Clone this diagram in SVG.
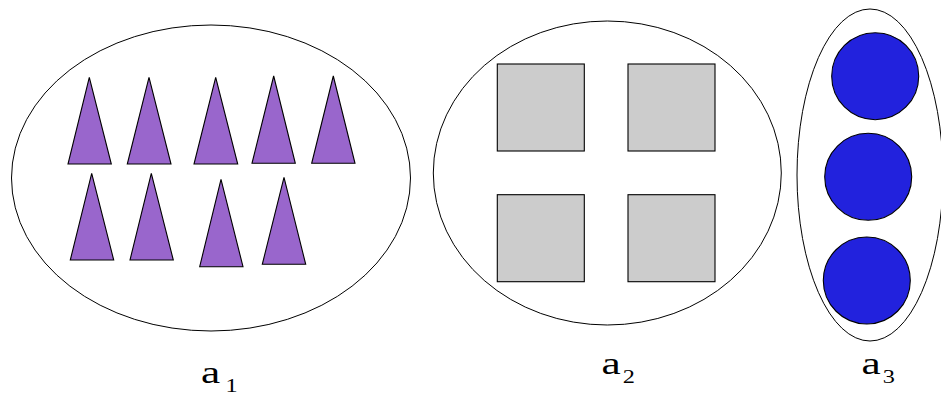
<svg xmlns="http://www.w3.org/2000/svg" width="941" height="403" viewBox="0 0 941 403">
<style>
.set{fill:none;stroke:#000;stroke-width:1}
.tri{fill:#9966CC;stroke:#000;stroke-width:1.1}
.sq{fill:#CCCCCC;stroke:#000;stroke-width:1.1}
.ci{fill:#2222DD;stroke:#000;stroke-width:1.1}
.lab{font-family:"Liberation Serif","DejaVu Serif",serif;font-size:32px;fill:#000}
.sub{font-size:18px}
</style>
<rect width="941" height="403" fill="#fff"/>
<g id="a1">
<ellipse class="set" cx="211" cy="178" rx="199.5" ry="153"/>
<polygon class="tri" points="89.3,77.3 68,164 111.3,164"/>
<polygon class="tri" points="149,77.3 127.3,164 171,164"/>
<polygon class="tri" points="215.7,77.3 194,164 237.7,164"/>
<polygon class="tri" points="273.7,76 252,163.3 295.3,163.3"/>
<polygon class="tri" points="333.3,76 311.7,163.3 355,163.3"/>
<polygon class="tri" points="91.7,173.3 70.3,260 113.7,260"/>
<polygon class="tri" points="151.3,173.3 130,260 173.3,260"/>
<polygon class="tri" points="221,179.3 199.7,266.7 243,266.7"/>
<polygon class="tri" points="284,177.3 262.3,264.3 305.7,264.3"/>
<text class="lab" transform="translate(201,382.7) scale(1.35,1)">a<tspan class="sub" dx="4" dy="9">1</tspan></text>
</g>
<g id="a2">
<ellipse class="set" cx="607.3" cy="173" rx="174" ry="152"/>
<rect class="sq" x="497.3" y="64" width="87" height="87"/>
<rect class="sq" x="628" y="64" width="87" height="87"/>
<rect class="sq" x="497.3" y="194.7" width="87" height="87"/>
<rect class="sq" x="628" y="194.7" width="87" height="87"/>
<text class="lab" transform="translate(601.5,374) scale(1.35,1)">a<tspan class="sub" dx="1.5" dy="9">2</tspan></text>
</g>
<g id="a3">
<ellipse class="set" cx="870" cy="175" rx="73" ry="166"/>
<circle class="ci" cx="875.2" cy="76.2" r="43.5"/>
<circle class="ci" cx="868.2" cy="176.8" r="43.5"/>
<circle class="ci" cx="866.8" cy="280.5" r="43.5"/>
<text class="lab" transform="translate(861.5,374) scale(1.35,1)">a<tspan class="sub" dx="1.5" dy="9">3</tspan></text>
</g>
</svg>
